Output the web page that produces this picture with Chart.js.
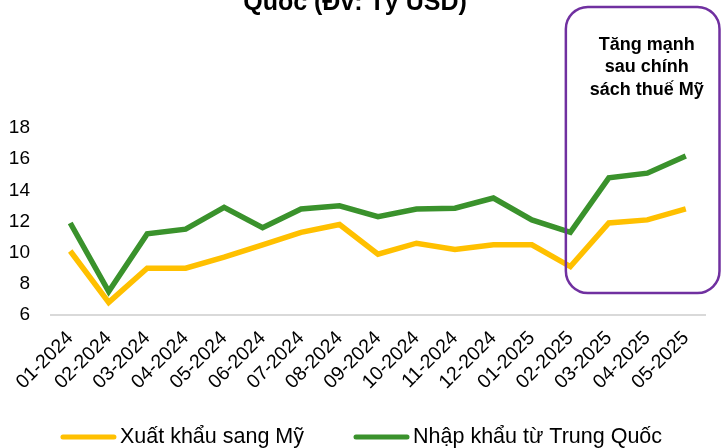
<!DOCTYPE html>
<html>
<head>
<meta charset="utf-8">
<script src="https://cdn.jsdelivr.net/npm/chart.js@4.4.1/dist/chart.umd.min.js"></script>
<style>
  html, body { margin: 0; padding: 0; background: #fff; }
  #wrap { width: 721px; height: 448px; position: relative; }
</style>
</head>
<body>
<div id="wrap"><canvas id="tradeChart"></canvas></div>
<script>
// Du lieu (ty USD)
const months = ['01-2024', '02-2024', '03-2024', '04-2024', '05-2024', '06-2024', '07-2024', '08-2024',
    '09-2024', '10-2024', '11-2024', '12-2024', '01-2025', '02-2025', '03-2025', '04-2025', '05-2025'];
const exportUS = [10.1, 6.8, 9.0, 9.0, 9.7, 10.5, 11.3, 11.8, 9.9, 10.6, 10.2, 10.5, 10.5, 9.1, 11.9, 12.1, 12.8];
const importCN = [11.9, 7.5, 11.2, 11.5, 12.9, 11.6, 12.8, 13.0, 12.3, 12.8, 12.85, 13.5, 12.1, 11.3, 14.8, 15.1, 16.2];
const yTicks = [6, 8, 10, 12, 14, 16, 18];
const titleTail = 'Quốc (Đv: Tỷ USD)';
const noteLines = ['Tăng mạnh', 'sau chính', 'sách thuế Mỹ'];
const noteStart = '02-2025';

const FONT = 'Arial, "Liberation Sans", sans-serif';

// ve tieu de bi cat, khung chu thich va legend
const overlayPlugin = {
    id: 'overlay',
    afterDraw(chart) {
        const ctx = chart.ctx;
        const x = chart.scales.x;
        ctx.save();
        ctx.fillStyle = '#000';
        ctx.font = 'bold 25px ' + FONT;
        ctx.textAlign = 'center';
        ctx.textBaseline = 'alphabetic';
        ctx.fillText(titleTail, 355, 10);

        const left = x.getPixelForValue(months.indexOf(noteStart)) - 4.5;
        const right = chart.width - 1.5;
        const top = 7, bottom = 293, r = 22;
        ctx.strokeStyle = '#7030A0';
        ctx.lineWidth = 2.5;
        ctx.beginPath();
        ctx.roundRect(left, top, right - left, bottom - top, r);
        ctx.stroke();

        ctx.font = 'bold 18px ' + FONT;
        ctx.textBaseline = 'middle';
        const cx = (left + right) / 2 + 4;
        noteLines.forEach((t, i) => ctx.fillText(t, cx, 45 + i * 22.5));

        // legend
        ctx.font = '21.5px ' + FONT;
        ctx.textAlign = 'left';
        const sw = 55, gap = 4, between = 50, ly = 437;
        const items = chart.data.datasets.map(ds => ({
            label: ds.label, color: ds.borderColor, w: ctx.measureText(ds.label).width
        }));
        const total = items.reduce((s, it) => s + sw + gap + it.w, 0) + between * (items.length - 1);
        let lx = 361.5 - total / 2;
        ctx.lineCap = 'round';
        ctx.lineWidth = 5;
        items.forEach(it => {
            ctx.strokeStyle = it.color;
            ctx.beginPath();
            ctx.moveTo(lx + 2, ly);
            ctx.lineTo(lx + sw - 2, ly);
            ctx.stroke();
            ctx.fillStyle = '#000';
            ctx.fillText(it.label, lx + sw + gap, ly);
            lx += sw + gap + it.w + between;
        });
        ctx.restore();
    }
};

const ctx = document.getElementById('tradeChart').getContext('2d');
new Chart(ctx, {
    type: 'line',
    data: {
        labels: months,
        datasets: [{
            label: 'Xuất khẩu sang Mỹ',
            data: exportUS,
            borderColor: '#FFC000',
            backgroundColor: '#FFC000',
            borderWidth: 5.5,
            pointRadius: 0,
            tension: 0
        }, {
            label: 'Nhập khẩu từ Trung Quốc',
            data: importCN,
            borderColor: '#3A922C',
            backgroundColor: '#3A922C',
            borderWidth: 5.5,
            pointRadius: 0,
            tension: 0
        }]
    },
    options: {
        responsive: true,
        maintainAspectRatio: false,
        animation: false,
        layout: {
            padding: { top: 128, right: 16, left: 0, bottom: 50 }
        },
        plugins: {
            legend: { display: false },
            tooltip: { enabled: false }
        },
        scales: {
            x: {
                offset: true,
                grid: { display: false },
                border: { display: true, color: '#D9D9D9', width: 2 },
                ticks: {
                    color: '#000',
                    maxRotation: 45,
                    minRotation: 45,
                    padding: 4,
                    font: { family: FONT, size: 19.5 }
                },
                afterFit: function(axis) {
                    axis.paddingLeft = 0;
                    axis.paddingRight = 0;
                }
            },
            y: {
                min: 6,
                max: 18,
                afterBuildTicks: function(axis) {
                    axis.ticks = yTicks.map(v => ({ value: v }));
                },
                afterFit: function(axis) {
                    axis.width = 51;
                },
                grid: { display: false },
                border: { display: false },
                ticks: {
                    color: '#000',
                    padding: 13,
                    font: { family: FONT, size: 19 }
                }
            }
        }
    },
    plugins: [overlayPlugin]
});
</script>
</body>
</html>
